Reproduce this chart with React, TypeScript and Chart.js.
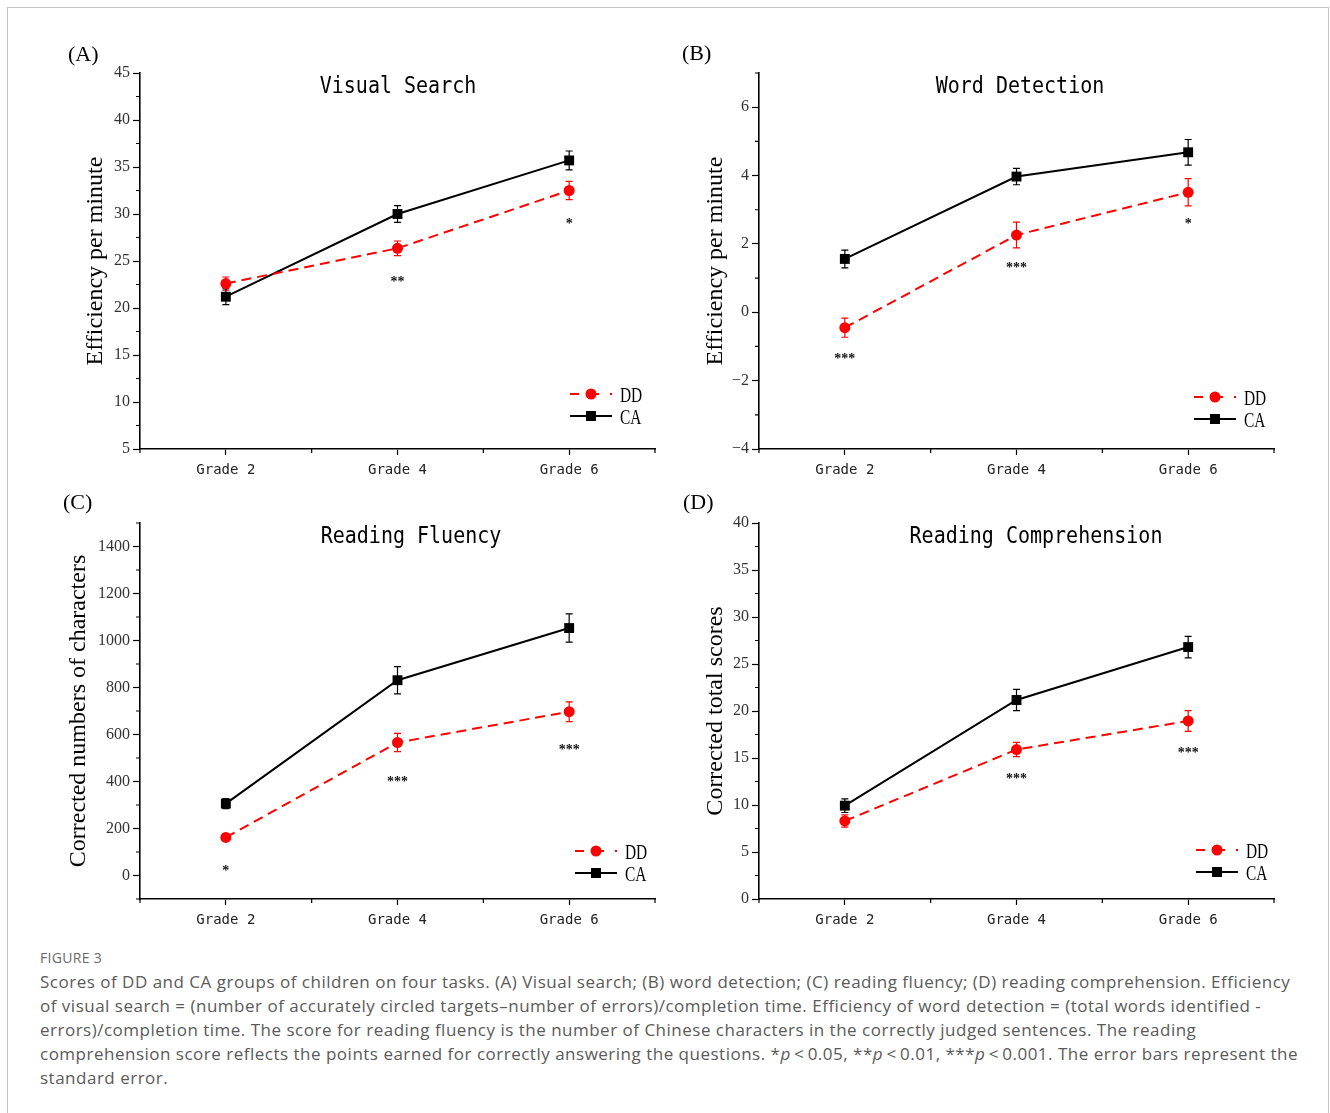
import React, { useEffect, useRef } from "react";
import { Chart, registerables } from "chart.js";

Chart.register(...registerables);

// ---------- DATA ----------
const categories = ["Grade 2", "Grade 4", "Grade 6"];
const seriesNames = ["DD", "CA"];

// (A) Visual Search
const visualDD = [22.6, 26.35, 32.5];
const visualDDErr = [0.7, 0.78, 0.97];
const visualCA = [21.2, 30.0, 35.7];
const visualCAErr = [0.85, 0.89, 1.0];
const visualSigText = ["", "**", "*"];
const visualSigAt = [0, 23.05, 29.26];
const visualTicks = [5, 10, 15, 20, 25, 30, 35, 40, 45];
const visualMinorTicks = [7.5, 12.5, 17.5, 22.5, 27.5, 32.5, 37.5, 42.5];

// (B) Word Detection
const wordDD = [-0.45, 2.26, 3.51];
const wordDDErr = [0.28, 0.375, 0.4];
const wordCA = [1.56, 3.97, 4.68];
const wordCAErr = [0.26, 0.24, 0.375];
const wordSigText = ["***", "***", "*"];
const wordSigAt = [-1.27, 1.39, 2.68];
const wordTicks = [-4, -2, 0, 2, 4, 6];
const wordMinorTicks = [-3, -1, 1, 3, 5, 7];

// (C) Reading Fluency
const fluencyDD = [162, 566, 697];
const fluencyDDErr = [12, 39, 42];
const fluencyCA = [306, 831, 1053];
const fluencyCAErr = [21, 58, 60];
const fluencySigText = ["*", "***", "***"];
const fluencySigAt = [34, 411, 548];
const fluencyTicks = [0, 200, 400, 600, 800, 1000, 1200, 1400];
const fluencyMinorTicks = [-100, 100, 300, 500, 700, 900, 1100, 1300, 1500];

// (D) Reading Comprehension
const comprehensionDD = [8.3, 15.9, 18.94];
const comprehensionDDErr = [0.66, 0.76, 1.1];
const comprehensionCA = [9.93, 21.17, 26.8];
const comprehensionCAErr = [0.73, 1.12, 1.14];
const comprehensionSigText = ["", "***", "***"];
const comprehensionSigAt = [0, 13.1, 15.9];
const comprehensionTicks = [0, 5, 10, 15, 20, 25, 30, 35, 40];
const comprehensionMinorTicks = [2.5, 7.5, 12.5, 17.5, 22.5, 27.5, 32.5, 37.5];

const xMinorTicks = [-0.5, 0.5, 1.5, 2.5];

// ---------- PANEL CONFIG ----------
type PanelCfg = {
  key: string;
  label: string;
  title: string;
  yTitle: string;
  yMin: number;
  yMax: number;
  ticks: number[];
  minor: number[];
  dd: number[];
  ddErr: number[];
  ca: number[];
  caErr: number[];
  sigText: string[];
  sigAt: number[];
  left: number;
  top: number;
  titleDx: number;
  yTitlePad: number;
  legendDx: number;
  legendDy: number;
  labelDx: number;
  labelDy: number;
};

const panels: PanelCfg[] = [
  {
    key: "A", label: "(A)", title: "Visual Search", yTitle: "Efficiency per minute",
    yMin: 5, yMax: 45, ticks: visualTicks, minor: visualMinorTicks,
    dd: visualDD, ddErr: visualDDErr, ca: visualCA, caErr: visualCAErr,
    sigText: visualSigText, sigAt: visualSigAt,
    left: 30, top: 20, titleDx: 258, yTitlePad: 51, legendDx: -85, legendDy: -55, labelDx: -72, labelDy: -18,
  },
  {
    key: "B", label: "(B)", title: "Word Detection", yTitle: "Efficiency per minute",
    yMin: -4, yMax: 7, ticks: wordTicks, minor: wordMinorTicks,
    dd: wordDD, ddErr: wordDDErr, ca: wordCA, caErr: wordCAErr,
    sigText: wordSigText, sigAt: wordSigAt,
    left: 649, top: 20, titleDx: 261, yTitlePad: 52, legendDx: -80, legendDy: -52, labelDx: -77, labelDy: -19,
  },
  {
    key: "C", label: "(C)", title: "Reading Fluency", yTitle: "Corrected numbers of characters",
    yMin: -100, yMax: 1500, ticks: fluencyTicks, minor: fluencyMinorTicks,
    dd: fluencyDD, ddErr: fluencyDDErr, ca: fluencyCA, caErr: fluencyCAErr,
    sigText: fluencySigText, sigAt: fluencySigAt,
    left: 30, top: 470, titleDx: 271, yTitlePad: 34, legendDx: -80, legendDy: -48, labelDx: -77, labelDy: -20,
  },
  {
    key: "D", label: "(D)", title: "Reading Comprehension", yTitle: "Corrected total scores",
    yMin: 0, yMax: 40, ticks: comprehensionTicks, minor: comprehensionMinorTicks,
    dd: comprehensionDD, ddErr: comprehensionDDErr, ca: comprehensionCA, caErr: comprehensionCAErr,
    sigText: comprehensionSigText, sigAt: comprehensionSigAt,
    left: 649, top: 470, titleDx: 277, yTitlePad: 52, legendDx: -78, legendDy: -49, labelDx: -76, labelDy: -20,
  },
];

const CW = 640;
const CH = 460;
const RED = "#ff0000";
const BLACK = "#000000";

function fmt(v: number) {
  return v < 0 ? "\u2212" + Math.abs(v) : String(v);
}

function makeOverlay(p: PanelCfg) {
  return {
    id: "overlay" + p.key,
    beforeDatasetsDraw(chart: any) {
      const ctx = chart.ctx;
      const ys = chart.scales.y;
      chart.data.datasets.forEach((ds: any, di: number) => {
        const meta = chart.getDatasetMeta(di);
        ctx.save();
        ctx.strokeStyle = ds.borderColor;
        ctx.lineWidth = 1.2;
        ctx.setLineDash([]);
        meta.data.forEach((pt: any, i: number) => {
          const v = ds.data[i];
          const e = ds.errors[i];
          const y1 = ys.getPixelForValue(v + e);
          const y2 = ys.getPixelForValue(v - e);
          ctx.beginPath();
          ctx.moveTo(pt.x, y1);
          ctx.lineTo(pt.x, y2);
          ctx.moveTo(pt.x - 3.5, y1);
          ctx.lineTo(pt.x + 3.5, y1);
          ctx.moveTo(pt.x - 3.5, y2);
          ctx.lineTo(pt.x + 3.5, y2);
          ctx.stroke();
        });
        ctx.restore();
      });
    },
    afterDraw(chart: any) {
      const ctx = chart.ctx;
      const ca = chart.chartArea;
      const xs = chart.scales.x;
      const ys = chart.scales.y;
      ctx.save();
      // minor ticks
      ctx.strokeStyle = "#000";
      ctx.lineWidth = 1.2;
      ctx.beginPath();
      p.minor.forEach((v) => {
        const py = ys.getPixelForValue(v);
        ctx.moveTo(ca.left - 4, py);
        ctx.lineTo(ca.left, py);
      });
      xMinorTicks.forEach((v) => {
        const px = xs.getPixelForValue(v);
        ctx.moveTo(px, ca.bottom);
        ctx.lineTo(px, ca.bottom + 4);
      });
      ctx.stroke();

      // significance stars
      ctx.fillStyle = "#111";
      ctx.font = 'bold 14px "Liberation Serif"';
      ctx.textAlign = "center";
      ctx.textBaseline = "alphabetic";
      p.sigText.forEach((t, i) => {
        if (!t) return;
        const px = xs.getPixelForValue(i);
        const py = ys.getPixelForValue(p.sigAt[i]);
        ctx.fillText(t, px, py + 7);
      });

      // panel title
      ctx.save();
      ctx.fillStyle = "#000";
      ctx.font = '20px "DejaVu Sans Mono"';
      ctx.textAlign = "center";
      ctx.translate(ca.left + p.titleDx, ca.top + 20);
      ctx.scale(1, 1.12);
      ctx.fillText(p.title, 0, 0);
      ctx.restore();

      // panel label
      ctx.fillStyle = "#000";
      ctx.font = '22px "Liberation Serif"';
      ctx.textAlign = "left";
      ctx.textBaseline = "middle";
      ctx.fillText(p.label, ca.left + p.labelDx, ca.top + p.labelDy);

      // legend
      chart.data.datasets.forEach((ds: any, di: number) => {
        const lx = ca.right + p.legendDx;
        const ly = ca.bottom + p.legendDy + di * 22;
        ctx.save();
        ctx.strokeStyle = ds.borderColor;
        ctx.lineWidth = 2;
        ctx.setLineDash(ds.borderDash ? [9, 11] : []);
        ctx.beginPath();
        ctx.moveTo(lx, ly);
        ctx.lineTo(lx + 42, ly);
        ctx.stroke();
        ctx.setLineDash([]);
        ctx.fillStyle = ds.pointBackgroundColor;
        if (ds.pointStyle === "circle") {
          ctx.beginPath();
          ctx.arc(lx + 21, ly, 5.5, 0, Math.PI * 2);
          ctx.fill();
        } else {
          ctx.fillRect(lx + 21 - 5, ly - 5, 10, 10);
        }
        ctx.fillStyle = "#000";
        ctx.font = '22px "Liberation Serif"';
        ctx.textAlign = "left";
        ctx.textBaseline = "alphabetic";
        ctx.translate(lx + 50, ly + 7.5);
        ctx.scale(0.7, 1);
        ctx.fillText(ds.label, 0, 0);
        ctx.restore();
      });
      ctx.restore();
    },
  };
}

function Panel({ p }: { p: PanelCfg }) {
  const ref = useRef<HTMLCanvasElement | null>(null);
  useEffect(() => {
    if (!ref.current) return;
    const chart = new Chart(ref.current, {
      type: "line",
      data: {
        labels: categories,
        datasets: [
          {
            label: seriesNames[0],
            data: p.dd,
            errors: p.ddErr,
            borderColor: RED,
            backgroundColor: RED,
            pointBackgroundColor: RED,
            pointBorderColor: RED,
            borderDash: [10, 6],
            borderWidth: 2,
            pointStyle: "circle",
            pointRadius: 5.5,
            pointBorderWidth: 0,
            tension: 0,
          } as any,
          {
            label: seriesNames[1],
            data: p.ca,
            errors: p.caErr,
            borderColor: BLACK,
            backgroundColor: BLACK,
            pointBackgroundColor: BLACK,
            pointBorderColor: BLACK,
            borderWidth: 2,
            pointStyle: "rect",
            pointRadius: 7,
            pointBorderWidth: 0,
            tension: 0,
          } as any,
        ],
      },
      options: {
        responsive: false,
        animation: false,
        events: [],
        layout: { padding: { top: 53, right: 15, left: 0, bottom: 0 } },
        plugins: { legend: { display: false }, tooltip: { enabled: false }, title: { display: false } },
        scales: {
          x: {
            type: "category",
            offset: true,
            grid: {
              display: true,
              drawOnChartArea: false,
              drawTicks: true,
              tickLength: 6,
              offset: false,
              tickColor: "#000",
              tickWidth: 1.2,
            },
            border: { display: true, color: "#000", width: 1.6 },
            ticks: {
              font: { family: "DejaVu Sans Mono", size: 14 },
              color: "#222",
              padding: 7,
              maxRotation: 0,
            },
            afterFit: (s: any) => {
              s.height = 31;
            },
          },
          y: {
            type: "linear",
            min: p.yMin,
            max: p.yMax,
            afterBuildTicks: (s: any) => {
              s.ticks = p.ticks.map((v) => ({ value: v }));
            },
            grid: {
              display: true,
              drawOnChartArea: false,
              drawTicks: true,
              tickLength: 7,
              tickColor: "#000",
              tickWidth: 1.2,
            },
            border: { display: true, color: "#000", width: 1.6 },
            ticks: {
              font: { family: "Liberation Serif", size: 16 },
              color: "#333",
              padding: 3,
              callback: (v: any) => fmt(Number(v)),
            },
            title: {
              display: true,
              text: p.yTitle,
              color: "#000",
              font: { family: "Liberation Serif", size: 24 },
              padding: { top: p.yTitlePad, bottom: 0 },
            },
            afterFit: (s: any) => {
              s.width = 110;
            },
          },
        },
      } as any,
      plugins: [makeOverlay(p)],
    });
    return () => chart.destroy();
  }, [p]);
  return (
    <canvas
      ref={ref}
      width={CW}
      height={CH}
      style={{ position: "absolute", left: p.left, top: p.top, width: CW, height: CH }}
    />
  );
}

const captionLines: React.ReactNode[] = [
  "Scores of DD and CA groups of children on four tasks. (A) Visual search; (B) word detection; (C) reading fluency; (D) reading comprehension. Efficiency",
  "of visual search = (number of accurately circled targets\u2013number of errors)/completion time. Efficiency of word detection = (total words identified -",
  "errors)/completion time. The score for reading fluency is the number of Chinese characters in the correctly judged sentences. The reading",
  <>
    comprehension score reflects the points earned for correctly answering the questions. *<i>p</i>{"\u2009<\u20090.05, **"}
    <i>p</i>{"\u2009<\u20090.01, ***"}<i>p</i>{"\u2009<\u20090.001. The error bars represent the"}
  </>,
  "standard error.",
];

export default function App() {
  return (
    <div
      style={{
        position: "absolute",
        left: 0,
        top: 0,
        width: 1330,
        height: 1113,
        background: "#fff",
        overflow: "hidden",
      }}
    >
      <div
        style={{
          position: "absolute",
          left: 7,
          top: 7,
          width: 1320,
          height: 1130,
          borderLeft: "1.5px solid #c4c4c4",
          borderTop: "1.5px solid #c4c4c4",
          borderRight: "1.5px solid #c4c4c4",
        }}
      />
      {panels.map((p) => (
        <Panel key={p.key} p={p} />
      ))}
      <div
        style={{
          position: "absolute",
          left: 40,
          top: 950,
          fontFamily: '"Open Sans", sans-serif',
          fontSize: 14,
          letterSpacing: "0.3px",
          lineHeight: "16px",
          color: "#6a6a6a",
          whiteSpace: "nowrap",
        }}
      >
        FIGURE 3
      </div>
      {captionLines.map((l, i) => (
        <div
          key={i}
          style={{
            position: "absolute",
            left: 40,
            top: 970 + i * 24,
            fontFamily: '"Open Sans", sans-serif',
            fontSize: 17,
            letterSpacing: "0.5px",
            lineHeight: "24px",
            color: "#5a5a5a",
            whiteSpace: "nowrap",
          }}
        >
          {l}
        </div>
      ))}
    </div>
  );
}
